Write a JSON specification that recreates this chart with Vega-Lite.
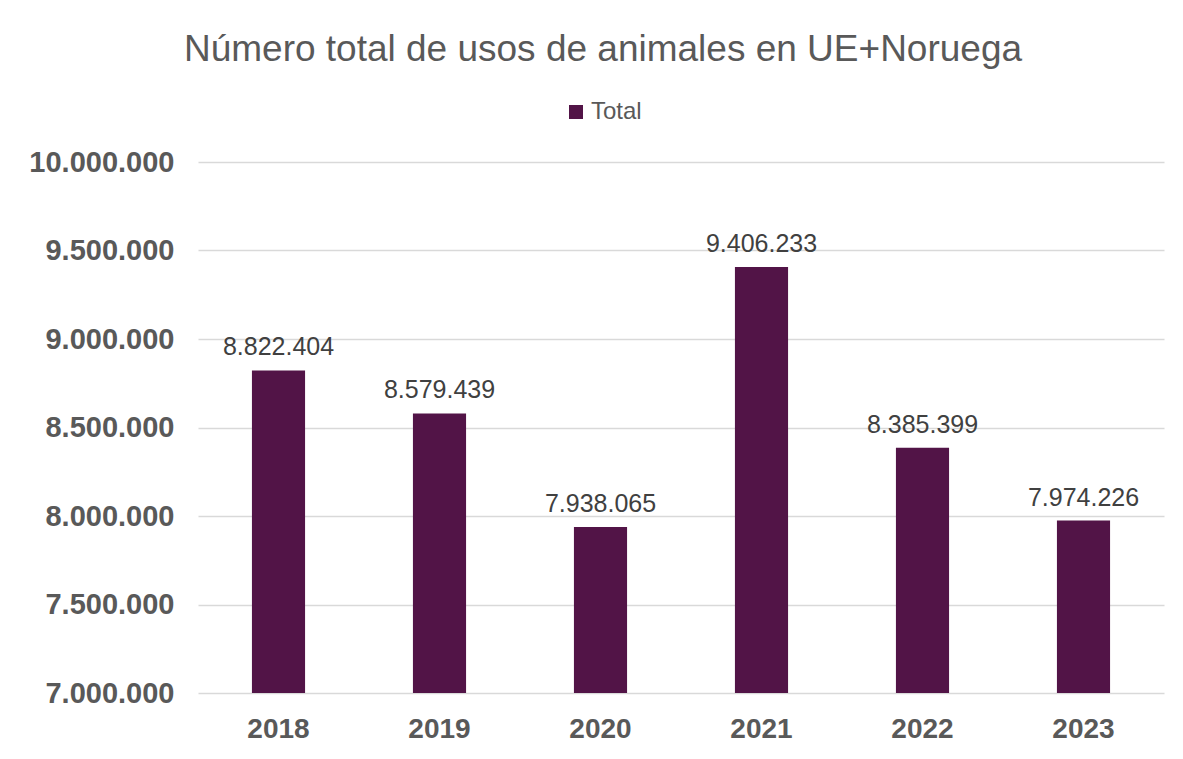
{
  "$schema": "https://vega.github.io/schema/vega-lite/v6.json",
  "width": 966,
  "height": 531,
  "autosize": {"type": "none"},
  "padding": {"left": 198, "top": 162, "right": 19, "bottom": 66},
  "background": "white",
  "title": {
    "text": "Número total de usos de animales en UE+Noruega",
    "font": "Liberation Sans",
    "fontSize": 37,
    "fontWeight": "normal",
    "color": "#595959",
    "anchor": "middle",
    "dx": -78,
    "baseline": "alphabetic",
    "offset": 2
  },
  "data": {
    "values": [
      {"year": "2018", "serie": "Total", "value": 8822404},
      {"year": "2019", "serie": "Total", "value": 8579439},
      {"year": "2020", "serie": "Total", "value": 7938065},
      {"year": "2021", "serie": "Total", "value": 9406233},
      {"year": "2022", "serie": "Total", "value": 8385399},
      {"year": "2023", "serie": "Total", "value": 7974226}
    ]
  },
  "encoding": {
    "x": {
      "field": "year",
      "type": "ordinal",
      "title": null,
      "scale": {"paddingInner": 0.67, "paddingOuter": 0.335},
      "axis": {
        "labelAngle": 0,
        "labelFont": "Liberation Sans",
        "labelFontSize": 28,
        "labelFontWeight": "bold",
        "labelColor": "#595959",
        "labelPadding": 22,
        "ticks": false,
        "domain": false,
        "grid": false
      }
    },
    "y": {
      "field": "value",
      "type": "quantitative",
      "title": null,
      "scale": {"domain": [7000000, 10000000], "zero": false, "nice": false},
      "axis": {
        "values": [7000000, 7500000, 8000000, 8500000, 9000000, 9500000, 10000000],
        "format": ",d",
        "labelFont": "Liberation Sans",
        "labelFontSize": 29,
        "labelFontWeight": "bold",
        "labelColor": "#595959",
        "labelPadding": 24,
        "ticks": false,
        "domain": false,
        "grid": true,
        "gridColor": "#D9D9D9",
        "gridWidth": 1.3
      }
    }
  },
  "layer": [
    {
      "mark": {"type": "bar", "clip": true},
      "encoding": {
        "y2": {"datum": 7000000},
        "color": {
          "field": "serie",
          "type": "nominal",
          "scale": {"range": ["#521447"]},
          "legend": {
            "title": null,
            "orient": "none",
            "legendX": 366,
            "legendY": -62,
            "direction": "horizontal",
            "symbolType": "square",
            "symbolSize": 196,
            "labelFont": "Liberation Sans",
            "labelFontSize": 24,
            "labelColor": "#595959",
            "labelOffset": 3
          }
        }
      }
    },
    {
      "mark": {
        "type": "text",
        "baseline": "alphabetic",
        "dy": -15,
        "font": "Liberation Sans",
        "fontSize": 25,
        "color": "#404040"
      },
      "encoding": {
        "text": {"field": "value", "type": "quantitative", "format": ",d"}
      }
    }
  ],
  "config": {
    "view": {"stroke": null},
    "locale": {
      "number": {"decimal": ",", "thousands": ".", "grouping": [3], "currency": ["", " €"]}
    }
  }
}
